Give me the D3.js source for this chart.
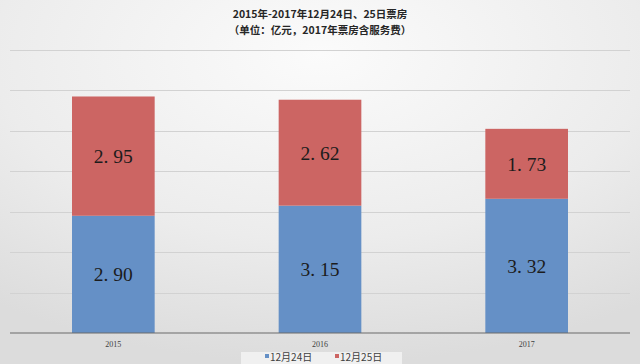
<!DOCTYPE html>
<html><head><meta charset="utf-8">
<script src="https://cdn.jsdelivr.net/npm/d3@7"></script>
<style>html,body{margin:0;padding:0;overflow:hidden;}</style>
</head><body>
<svg id="c" width="640" height="364"></svg>
<script>
const categories = ["2015", "2016", "2017"];
const dec24 = [2.90, 3.15, 3.32];
const dec25 = [2.95, 2.62, 1.73];
const seriesNames = ["12月24日", "12月25日"];
const yTicks = [0, 1, 2, 3, 4, 5, 6, 7];
const titleLines = ["2015年-2017年12月24日、25日票房", "（单位：亿元，2017年票房含服务费）"];

const svg = d3.select("#c");
const W = 640, H = 364;
const defs = svg.append("defs");
const rg = defs.append("radialGradient").attr("id", "bg").attr("cx", "50%").attr("cy", "15%").attr("r", "85%");
rg.append("stop").attr("offset", "0%").attr("stop-color", "#fbfbfb");
rg.append("stop").attr("offset", "60%").attr("stop-color", "#ececec");
rg.append("stop").attr("offset", "100%").attr("stop-color", "#dcdcdc");
svg.append("rect").attr("width", W).attr("height", H).attr("fill", "url(#bg)");

const m = {l: 10, r: 10, t: 50, b: 31};
const x = d3.scaleBand().domain(categories).range([m.l, W - m.r]).paddingInner(0.6).paddingOuter(0.3);
const y = d3.scaleLinear().domain([0, 7]).range([H - m.b, m.t]);

// gridlines
svg.append("g").selectAll("line").data(yTicks.slice(1)).join("line")
  .attr("x1", m.l).attr("x2", W - m.r)
  .attr("y1", d => Math.round(y(d)) + 0.5).attr("y2", d => Math.round(y(d)) + 0.5)
  .attr("stroke", "#d2d2d2").attr("stroke-width", 1);

const colors = ["#6590c6", "#cc6563"];
const data = categories.map((c, i) => ({c, a: dec24[i], b: dec25[i]}));
const stack = d3.stack().keys(["a", "b"])(data);

const g = svg.append("g");
stack.forEach((layer, li) => {
  g.selectAll(null).data(layer).join("rect")
    .attr("x", d => x(d.data.c))
    .attr("width", x.bandwidth())
    .attr("y", d => y(d[1]))
    .attr("height", d => y(d[0]) - y(d[1]))
    .attr("fill", colors[li]);
  g.selectAll(null).data(layer).join("text")
    .attr("x", d => x(d.data.c) + x.bandwidth() / 2)
    .attr("y", d => (y(d[0]) + y(d[1])) / 2 + 7)
    .attr("text-anchor", "middle")
    .attr("font-family", "'Liberation Serif', 'DejaVu Serif', serif")
    .attr("font-size", 19.5)
    .attr("fill", "#1c1c1c")
    .text(d => (d[1] - d[0]).toFixed(2).replace(".", ". "));
});

// axis
const xAxis = svg.append("g").attr("transform", `translate(0,${H - m.b})`)
  .call(d3.axisBottom(x).tickSize(0).tickPadding(8));
xAxis.select(".domain").attr("stroke", "#6b6b6b").attr("stroke-width", 1.2)
  .attr("d", `M${m.l},0H${W - m.r}`);
xAxis.selectAll("text").attr("font-family", "'Liberation Serif', serif").attr("font-size", 8).attr("fill", "#404040");

// title
svg.append("g").selectAll("text").data(titleLines).join("text")
  .attr("x", W / 2).attr("y", (d, i) => 18 + i * 15.5)
  .attr("text-anchor", "middle")
  .attr("font-family", "'Noto Sans CJK SC', sans-serif")
  .attr("font-weight", "bold").attr("font-size", 10.5)
  .attr("fill", "#262626").text(d => d);

// legend
const lg = svg.append("g");
lg.append("rect").attr("x", 241).attr("y", 352).attr("width", 161).attr("height", 12).attr("fill", "#f0f0f0");
const items = lg.selectAll("g").data(seriesNames).join("g")
  .attr("transform", (d, i) => `translate(${265 + i * 70},0)`);
items.append("rect").attr("x", 0).attr("y", 354).attr("width", 4).attr("height", 4).attr("fill", (d, i) => colors[i]);
items.append("text").attr("x", 5).attr("y", 361)
  .attr("font-family", "'Noto Sans CJK SC', sans-serif").attr("font-size", 10)
  .attr("fill", "#404040").text(d => d);
</script>
</body></html>
